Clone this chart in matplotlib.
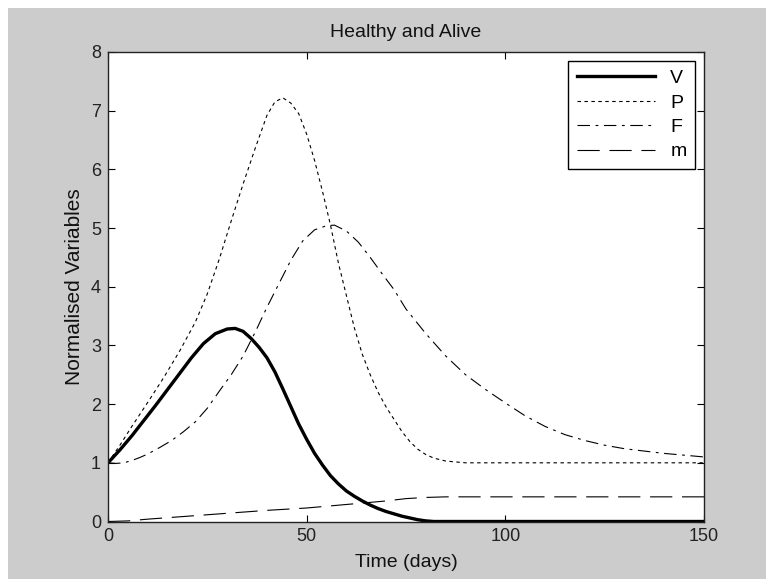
import matplotlib
matplotlib.use("Agg")
import matplotlib.pyplot as plt
from matplotlib.patches import Rectangle

plt.rcParams["font.family"] = ["Liberation Sans", "DejaVu Sans"]
plt.rcParams["lines.scale_dashes"] = False

# =========================
# Dados
# =========================

v_days = [0, 3, 6, 9, 12, 15, 18, 21, 24, 27, 30, 32, 34, 36, 38, 40, 42, 44,
          46, 48, 50, 52, 54, 56, 58, 60, 62, 64, 66, 68, 70, 72, 74, 76, 78,
          80, 82, 150]
v_vals = [1.0, 1.22, 1.46, 1.72, 1.98, 2.25, 2.52, 2.79, 3.03, 3.2, 3.28, 3.29,
          3.24, 3.12, 2.97, 2.79, 2.55, 2.26, 1.96, 1.66, 1.4, 1.16, 0.96, 0.78,
          0.64, 0.52, 0.43, 0.35, 0.28, 0.22, 0.17, 0.13, 0.09, 0.06, 0.03,
          0.01, 0.0, 0.0]

p_days = [0, 3, 6, 10, 14, 18, 22, 25, 28, 31, 34, 37, 40, 42, 44, 46, 48, 50,
          52, 54, 56, 58, 60, 62, 64, 66, 68, 70, 72, 74, 76, 78, 80, 82, 85,
          90, 150]
p_vals = [1.0, 1.3, 1.62, 2.03, 2.45, 2.9, 3.4, 3.88, 4.47, 5.12, 5.75, 6.35,
          6.92, 7.15, 7.22, 7.13, 6.95, 6.6, 6.15, 5.62, 5.05, 4.4, 3.85, 3.3,
          2.85, 2.5, 2.2, 1.95, 1.74, 1.53, 1.36, 1.23, 1.14, 1.08, 1.03,
          1.0, 1.0]

f_days = [0, 2, 4, 6, 8, 10, 13, 16, 19, 22, 25, 28, 31, 34, 37, 40, 43, 46,
          49, 52, 55, 57, 60, 63, 66, 69, 72, 75, 80, 85, 90, 95, 100, 105,
          110, 115, 120, 125, 130, 135, 140, 145, 150]
f_vals = [1.0, 0.99, 1.0, 1.04, 1.09, 1.15, 1.26, 1.38, 1.53, 1.7, 1.93, 2.22,
          2.5, 2.82, 3.22, 3.65, 4.05, 4.45, 4.78, 4.97, 5.04, 5.05, 4.95,
          4.76, 4.5, 4.22, 3.95, 3.62, 3.2, 2.82, 2.5, 2.25, 2.02, 1.8, 1.62,
          1.48, 1.38, 1.3, 1.24, 1.2, 1.16, 1.13, 1.1]

m_days = [0, 5, 10, 20, 30, 40, 50, 60, 70, 75, 80, 85, 150]
m_vals = [0.0, 0.01, 0.04, 0.09, 0.14, 0.19, 0.23, 0.29, 0.35, 0.39, 0.41,
          0.42, 0.42]

X_TICKS = [0, 50, 100, 150]
Y_TICKS = [0, 1, 2, 3, 4, 5, 6, 7, 8]

# =========================
# Figura (estilo MATLAB)
# =========================

W, H = 766, 579
fig = plt.figure(figsize=(W / 100, H / 100), dpi=100, facecolor="white")
fig.patches.append(Rectangle((8 / W, 0), (W - 8) / W, (H - 8) / H,
                             transform=fig.transFigure, facecolor="#cccccc",
                             edgecolor="none", zorder=-10))

ax = fig.add_axes([108 / W, (H - 521.5) / H, 596 / W, (521.5 - 52) / H])
ax.set_facecolor("white")

ax.plot(v_days, v_vals, color="black", lw=2.4, label="V")
ax.plot(p_days, p_vals, color="black", lw=0.8, dashes=(2.5, 2.5), label="P")
ax.plot(f_days, f_vals, color="black", lw=0.8, dashes=(9, 4, 2, 4), label="F")
ax.plot(m_days, m_vals, color="black", lw=0.8, dashes=(16, 7), label="m")

ax.set_xlim(0, 150)
ax.set_ylim(0, 8)
ax.set_xticks(X_TICKS)
ax.set_yticks(Y_TICKS)
ax.tick_params(direction="in", length=5, width=0.8, top=True, right=True,
               labelsize=13, pad=5, colors="black")
ax.tick_params(axis="x", labelcolor="#222222")
ax.tick_params(axis="y", labelcolor="#222222")
for spine in ax.spines.values():
    spine.set_linewidth(1.0)
    spine.set_color("#222222")

ax.set_title("Healthy and Alive", fontsize=14, pad=11, color="#111111")
ax.set_xlabel("Time (days)", fontsize=14, labelpad=6, color="#111111")
ax.set_ylabel("Normalised Variables", fontsize=15, labelpad=5, color="#111111")

leg = ax.legend(loc="upper right", fontsize=14, handlelength=4.0,
                handletextpad=0.8, labelspacing=0.35, borderpad=0.45,
                borderaxespad=0.45, fancybox=False, framealpha=1,
                edgecolor="black")
leg.get_frame().set_linewidth(1.0)

plt.savefig("out.png", dpi=100, facecolor=fig.get_facecolor())
